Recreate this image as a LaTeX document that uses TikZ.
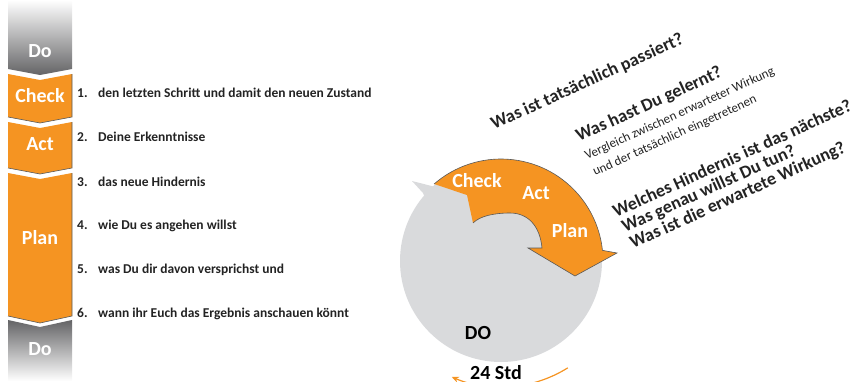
\documentclass[tikz,border=0pt]{standalone}
\usepackage{fontspec}
\setmainfont{Carlito}
\usepackage{xcolor}
\usetikzlibrary{positioning, arrows.meta}
\definecolor{pdcaorange}{RGB}{245,148,34}
\definecolor{ringgray}{RGB}{217,218,220}
\definecolor{dogray}{RGB}{100,100,102}
\definecolor{txtdark}{RGB}{35,35,35}

\begin{document}
\begin{tikzpicture}[x=1pt,y=-1pt,>=Latex]
\tikzset{phase/.style={text=white,font=\fontsize{20}{22}\selectfont\bfseries,inner sep=0pt},
  item/.style={anchor=west,inner sep=0pt,text=txtdark,font=\fontsize{13.5}{15}\selectfont\bfseries},
  question/.style={anchor=base west,rotate=24.5,inner sep=0pt,text=txtdark,font=\fontsize{18}{20}\selectfont\bfseries},
  hint/.style={question,font=\fontsize{13}{15}\selectfont},
  edgeline/.style={draw=black!65,line width=0.6pt}}
\useasboundingbox (0,0) rectangle (852,381);

% left column
\shade[top color=white,bottom color=dogray] (8,0) -- (72,0) -- (72,69) -- (40,75) -- (8,69) -- cycle;
\fill[pdcaorange] (8,74) -- (40,80) -- (72,74) -- (72,117) -- (40,123) -- (8,117) -- cycle;
\draw[edgeline] (72,74) -- (72,117) -- (40,123) -- (8,117);
\fill[pdcaorange] (8,122) -- (40,128) -- (72,122) -- (72,168) -- (40,174) -- (8,168) -- cycle;
\draw[edgeline] (72,122) -- (72,168) -- (40,174) -- (8,168);
\fill[pdcaorange] (8,173) -- (40,179) -- (72,173) -- (72,316) -- (40,323) -- (8,316) -- cycle;
\draw[edgeline] (72,173) -- (72,316) -- (40,323) -- (8,316);
\shade[top color=dogray,bottom color=white] (8,320) -- (40,327) -- (72,320) -- (72,381) -- (8,381) -- cycle;

\node[phase] (do1) at (40,51) {Do};
\node[phase] (chk) at (40,96) {Check};
\node[phase] (act) at (40,144) {Act};
\node[phase] (pln) at (40,238) {Plan};
\node[phase] (do2) at (40,349) {Do};

\node[item] (i1) at (77,93) {\makebox[21pt][l]{1.}den letzten Schritt und damit den neuen Zustand};
\node[item,below=44.2pt of i1.west,anchor=west] (i2) {\makebox[21pt][l]{2.}Deine Erkenntnisse};
\node[item,below=44.2pt of i2.west,anchor=west] (i3) {\makebox[21pt][l]{3.}das neue Hindernis};
\node[item,below=44.2pt of i3.west,anchor=west] (i4) {\makebox[21pt][l]{4.}wie Du es angehen willst};
\node[item,below=44.2pt of i4.west,anchor=west] (i5) {\makebox[21pt][l]{5.}was Du dir davon versprichst und};
\node[item,below=44.2pt of i5.west,anchor=west] (i6) {\makebox[21pt][l]{6.}wann ihr Euch das Ergebnis anschauen könnt};

% cycle
\coordinate (cc) at (501,261);
\fill[ringgray] (cc) circle[radius=101pt];
\fill[ringgray] (412,181) -- (467,195) -- (473,223) -- (430,210) -- (423,193) -- cycle;
\fill[pdcaorange] ([shift={(131:102pt)}]cc) arc[start angle=131,end angle=6,radius=102pt]
  -- (617,253) -- (575,276) -- (528,248) -- (542,248)
  .. controls (540,226) and (528,213) .. (510,213)
  .. controls (494,213) and (480,216) .. (473,223) -- (467,195) -- cycle;
\draw[edgeline] ([shift={(131:102pt)}]cc) arc[start angle=131,end angle=6,radius=102pt]
  -- (617,253) -- (575,276) -- (528,248) -- (542,248)
  .. controls (540,226) and (528,213) .. (510,213)
  .. controls (494,213) and (480,216) .. (473,223);

\node[phase] (rchk) at (477,181) {Check};
\node[phase] (ract) at (536,193) {Act};
\node[phase] (rpln) at (570,231) {Plan};
\node[phase,text=black] (rdo) at (478,333) {DO};

\draw[pdcaorange,line width=1.2pt,-{Stealth[length=7pt,width=6pt]}] ([shift={(-58:126pt)}]cc) arc[start angle=-58,end angle=-113,radius=126pt];
\node[phase,text=black,fill=white,inner sep=1pt,anchor=base] (std) at (496,379.5) {24 Std};

% questions
\node[question] (q1) at (494,130) {Was ist tatsächlich passiert?};
\node[question] (q2) at (579,142) {Was hast Du gelernt?};
\node[hint] (q2a) at (587,160) {Vergleich zwischen erwarteter Wirkung};
\node[hint] (q2b) at (595,176) {und der tatsächlich eingetretenen};
\node[question] (q3) at (616,218) {Welches Hindernis ist das nächste?};
\node[question] (q3a) at (625,233) {Was genau willst Du tun?};
\node[question] (q3b) at (633,249) {Was ist die erwartete Wirkung?};
\end{tikzpicture}
\end{document}
